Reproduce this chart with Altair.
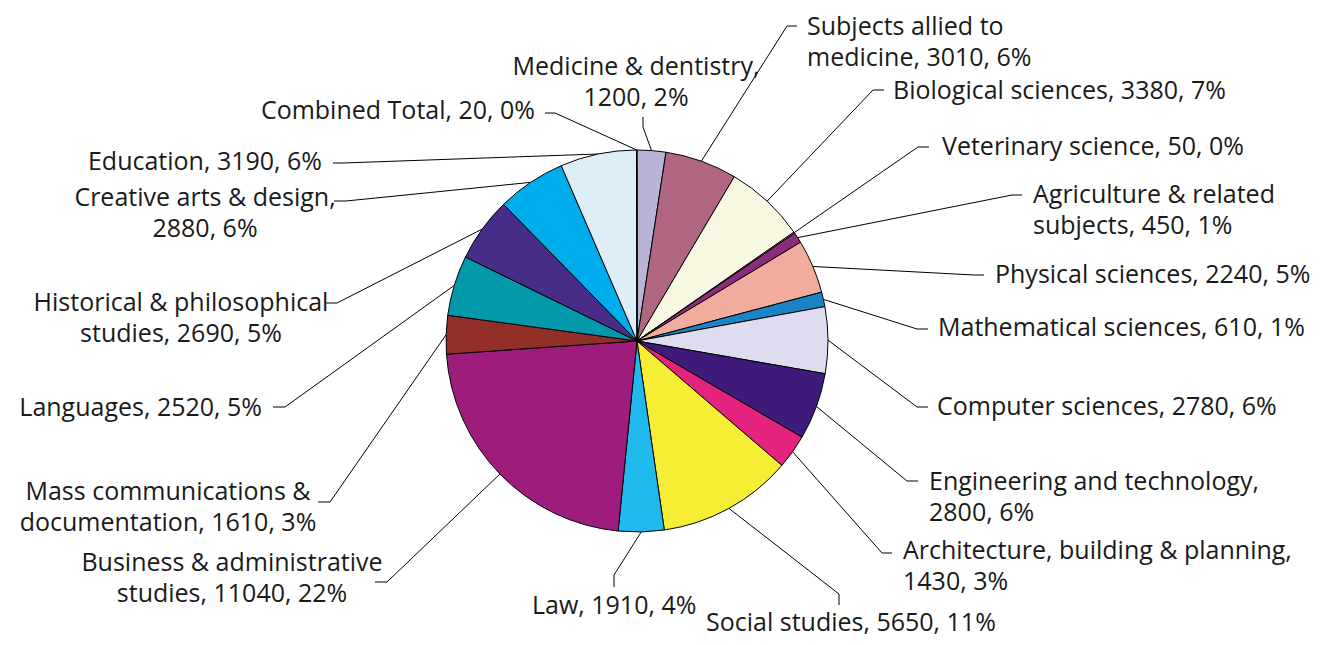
import altair as alt
import pandas as pd

# ---- data (clockwise from 12 o'clock) ----
categories = [
    "Medicine & dentistry", "Subjects allied to medicine", "Biological sciences",
    "Veterinary science", "Agriculture & related subjects", "Physical sciences",
    "Mathematical sciences", "Computer sciences", "Engineering and technology",
    "Architecture, building & planning", "Social studies", "Law",
    "Business & administrative studies", "Mass communications & documentation",
    "Languages", "Historical & philosophical studies", "Creative arts & design",
    "Education", "Combined Total",
]
values = [1200, 3010, 3380, 50, 450, 2240, 610, 2780, 2800, 1430, 5650, 1910,
          11040, 1610, 2520, 2690, 2880, 3190, 20]
label_texts = [
    "Medicine & dentistry,\n1200, 2%",
    "Subjects allied to\nmedicine, 3010, 6%",
    "Biological sciences, 3380, 7%",
    "Veterinary science, 50, 0%",
    "Agriculture & related\nsubjects, 450, 1%",
    "Physical sciences, 2240, 5%",
    "Mathematical sciences, 610, 1%",
    "Computer sciences, 2780, 6%",
    "Engineering and technology,\n2800, 6%",
    "Architecture, building & planning,\n1430, 3%",
    "Social studies, 5650, 11%",
    "Law, 1910, 4%",
    "Business & administrative\nstudies, 11040, 22%",
    "Mass communications &\ndocumentation, 1610, 3%",
    "Languages, 2520, 5%",
    "Historical & philosophical\nstudies, 2690, 5%",
    "Creative arts & design,\n2880, 6%",
    "Education, 3190, 6%",
    "Combined Total, 20, 0%",
]
colors = [
    "#b7b4d8", "#b06680", "#f8f8e2", "#c8dce8", "#8c2a7c", "#f2ac9e",
    "#1a84c6", "#dedcee", "#3e1a7a", "#e4237f", "#f5ee35", "#20b9ee",
    "#9e1c7c", "#922f28", "#0498ab", "#472d87", "#00adec", "#ddeef8",
    "#ffffff",
]

# ---- layout (page pixels): first-line anchor, alignment, elbow and stub end ----
label_x = [636, 807, 893, 942, 1033, 995, 938, 937, 929, 903, 706, 532,
           232, 168, 262, 181, 205, 322, 535]
label_y = [67, 27, 91, 147, 195, 275, 328, 407, 482, 551, 623, 606,
           563, 492, 408, 303, 198, 162, 111]
label_align = ["center", "left", "left", "left", "left", "left", "left", "left",
               "left", "left", "left", "left", "center", "center", "right",
               "center", "center", "right", "right"]
elbow_x = [643, 787, 873, 918, 1012, 974, 917, 917, 907, 882, 839, 614,
           387, 330, 285, 337, 346, 343, 555]
elbow_y = [127, 26, 90, 147, 195, 275, 329, 407, 481, 553, 594, 575,
           582, 502, 407, 303, 201, 163, 113]
stub_x = [643, 797, 884, 929, 1022, 984, 928, 928, 918, 892, 839, 614,
          375, 318, 273, 325, 334, 333, 545]
stub_y = [117, 26, 90, 147, 195, 275, 329, 407, 481, 553, 605, 587,
          582, 502, 407, 303, 201, 163, 113]

CX, CY, R = 637, 341, 191
OX, OY = 8, 8          # page margin: plot origin on the page
W, H = 1305, 629
FONT = "Open Sans"

df = pd.DataFrame({
    "idx": list(range(len(categories))),
    "category": categories,
    "value": values,
    "label": label_texts,
    "lx": label_x, "ly": label_y, "align": label_align,
    "ex": elbow_x, "ey": elbow_y, "sx": stub_x, "sy": stub_y,
})

xs = alt.Scale(domain=[OX, OX + W], nice=False, zero=False)
ys = alt.Scale(domain=[OY, OY + H], nice=False, zero=False, reverse=True)

base = alt.Chart(df)

pie = base.mark_arc(radius=R, stroke="black", strokeWidth=1).encode(
    theta=alt.Theta("value:Q", stack=True),
    color=alt.Color("category:N", scale=alt.Scale(domain=categories, range=colors), legend=None),
    order=alt.Order("idx:Q"),
    x=alt.value(CX - OX),
    y=alt.value(CY - OY),
)

anchored = base.transform_joinaggregate(
    total="sum(value)"
).transform_window(
    cum="sum(value)", sort=[alt.SortField("idx", order="ascending")]
).transform_calculate(
    mid="(datum.cum - datum.value / 2) / datum.total * 2 * PI",
    ax=f"{CX} + {R} * sin(datum.mid)",
    ay=f"{CY} - {R} * cos(datum.mid)",
)

leader = anchored.mark_rule(color="black", strokeWidth=1).encode(
    x=alt.X("ax:Q", scale=xs, axis=None),
    y=alt.Y("ay:Q", scale=ys, axis=None),
    x2="ex:Q",
    y2="ey:Q",
)

stub = base.mark_rule(color="black", strokeWidth=1).encode(
    x=alt.X("ex:Q", scale=xs, axis=None),
    y=alt.Y("ey:Q", scale=ys, axis=None),
    x2="sx:Q",
    y2="sy:Q",
)

texts = []
for a in ["left", "center", "right"]:
    texts.append(
        base.transform_filter(alt.datum.align == a).mark_text(
            align=a, baseline="middle", font=FONT, fontSize=25,
            lineBreak="\n", lineHeight=31, color="#1a1a1a",
        ).encode(
            x=alt.X("lx:Q", scale=xs, axis=None),
            y=alt.Y("ly:Q", scale=ys, axis=None),
            text="label:N",
        )
    )

chart = alt.layer(leader, stub, pie, *texts).properties(
    width=W, height=H, padding=0,
    autosize=alt.AutoSizeParams(type="none"),
).configure_view(strokeWidth=0)

chart.save("out.html", embed_options={"renderer": "svg", "actions": False})
